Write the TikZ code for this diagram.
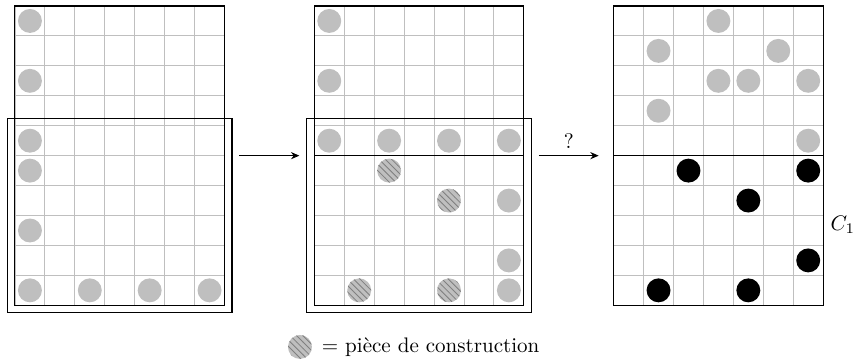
\documentclass[tikz,border=0pt]{standalone}
\usetikzlibrary{positioning,patterns,arrows.meta}
\tikzset{
  cell/.style={draw=gray!50,line width=0.4pt,step=0.5cm},
  board/.style={draw,line width=0.5pt},
  frame/.style={draw,line width=0.5pt},
  pion/.style={circle,fill=gray!50,inner sep=0pt,minimum size=4mm},
  piece/.style={pion,postaction={pattern=north west lines,pattern color=gray}},
  noir/.style={circle,fill=black,inner sep=0pt,minimum size=4mm},
  fleche/.style={-{Stealth[length=1.4mm,width=1.2mm]},line width=0.4pt}
}
\begin{document}
\begin{tikzpicture}[x=0.5cm,y=0.5cm]
\useasboundingbox (0,0) rectangle (28.53,12.06);
% premier plateau
\begin{scope}[shift={(0.5,1.86)}]
\draw[cell] (0,0) grid (7,10);
\draw[board] (0,0) rectangle (7,10);
\draw[frame] (-0.25,-0.25) rectangle (7.25,6.25);
\foreach \c/\r in {1/1,1/3,1/5,1/6,1/8,1/10,3/10,5/10,7/10}
  \node[pion] (a-\c-\r) at (\c-0.5,10.5-\r) {};
\coordinate (a-out) at (7.5,5);
\end{scope}
% second plateau
\begin{scope}[shift={(10.5,1.86)}]
\draw[cell] (0,0) grid (7,10);
\draw[board] (0,0) rectangle (7,10);
\draw[board] (0,5) -- (7,5);
\draw[frame] (-0.25,-0.25) rectangle (7.25,6.25);
\foreach \c/\r in {1/1,1/3,1/5,3/5,5/5,7/5,7/7,7/9,7/10}
  \node[pion] (b-\c-\r) at (\c-0.5,10.5-\r) {};
\foreach \c/\r in {3/6,5/7,2/10,5/10}
  \node[piece] (b-\c-\r) at (\c-0.5,10.5-\r) {};
\coordinate (b-in) at (-0.5,5);
\coordinate (b-out) at (7.5,5);
\end{scope}
% troisieme plateau
\begin{scope}[shift={(20.5,1.86)}]
\draw[cell] (0,0) grid (7,10);
\draw[board] (0,0) rectangle (7,10);
\draw[board] (0,5) -- (7,5);
\foreach \c/\r in {4/1,2/2,6/2,4/3,5/3,7/3,2/4,7/5}
  \node[pion] (c-\c-\r) at (\c-0.5,10.5-\r) {};
\foreach \c/\r in {3/6,7/6,5/7,7/9,2/10,5/10}
  \node[noir] (c-\c-\r) at (\c-0.5,10.5-\r) {};
\coordinate (c-in) at (-0.5,5);
\node[anchor=west] (cone) at (7,2.7) {$C_1$};
\end{scope}
\draw[fleche] (a-out) -- (b-in);
\draw[fleche] (b-out) -- node[above] (quest) {?} (c-in);
% legende
\node[piece] (leg) at (10.02,0.47) {};
\node[right=1pt of leg] (legtext) {$=$ pièce de construction};
\end{tikzpicture}
\end{document}
